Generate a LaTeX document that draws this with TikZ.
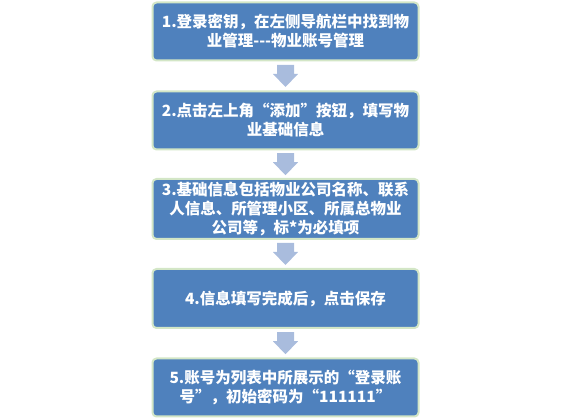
\documentclass[tikz,border=0pt]{standalone}
\usepackage{fontspec}
\usetikzlibrary{calc}
\newfontfamily\cjk{Noto Sans CJK SC}
\definecolor{boxblue}{HTML}{4F81BD}
\definecolor{boxedge}{HTML}{D3E6C6}
\definecolor{arrowblue}{HTML}{A9BCDD}
\begin{document}
\begin{tikzpicture}[x=1pt,y=-1pt,
  stepbox/.style={draw=boxedge, line width=2pt, fill=boxblue, rounded corners=4pt,
    minimum width=266pt, text width=258pt, align=center, text=white,
    font=\cjk\bfseries\fontsize{15.5}{19}\selectfont, inner sep=0pt},
  downarrow/.style={fill=arrowblue, draw=none}]
\useasboundingbox (0,0) rectangle (571,419);
\node[stepbox, minimum height=58pt] (s1) at (285.5,31.5) {1.登录密钥，在左侧导航栏中找到物\\业管理-{}-{}-物业账号管理};
\node[stepbox, minimum height=58pt] (s2) at (285.5,120.5) {2.点击左上角“添加”按钮，填写物\\业基础信息};
\node[stepbox, minimum height=60pt] (s3) at (285.5,209) {3.基础信息包括物业公司名称、联系\\人信息、所管理小区、所属总物业\\公司等，标*为必填项};
\node[stepbox, minimum height=59pt] (s4) at (285.5,298.5) {4.信息填写完成后，点击保存};
\node[stepbox, minimum height=58pt] (s5) at (285.5,387.5) {5.账号为列表中所展示的“登录账\\号”，初始密码为“111111”};
\foreach \a/\b in {s1/s2,s2/s3,s3/s4,s4/s5}{
  \path ($(\a.south)!0.5!(\b.north)$) coordinate (m\a);
}
\foreach \c in {ms1,ms2,ms3,ms4}{
  \fill[downarrow] ([shift={(-8.5,-11)}]\c) -- ([shift={(8.5,-11)}]\c) -- ([shift={(8.5,-2)}]\c)
    -- ([shift={(12.5,-2)}]\c) -- ([shift={(0,11)}]\c) -- ([shift={(-12.5,-2)}]\c)
    -- ([shift={(-8.5,-2)}]\c) -- cycle;
}
\end{tikzpicture}
\end{document}
